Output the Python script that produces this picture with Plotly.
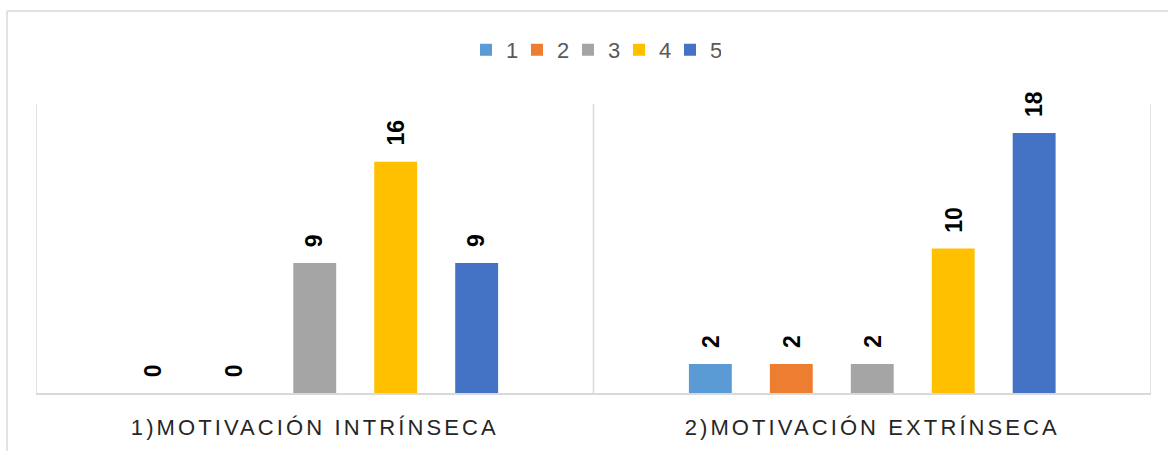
import plotly.graph_objects as go

categories = ["1)MOTIVACIÓN INTRÍNSECA", "2)MOTIVACIÓN EXTRÍNSECA"]
series_names = ["1", "2", "3", "4", "5"]
s1 = [0, 2]
s2 = [0, 2]
s3 = [9, 2]
s4 = [16, 10]
s5 = [9, 18]
series_values = [s1, s2, s3, s4, s5]
colors = ["#5B9BD5", "#ED7D31", "#A5A5A5", "#FFC000", "#4472C4"]

BARGAP = 0.274
BARGROUPGAP = 0.47
GRID = "#D9D9D9"

fig = go.Figure()
for name, vals, col in zip(series_names, series_values, colors):
    fig.add_trace(go.Bar(x=categories, y=vals, name=name, marker=dict(color=col, line=dict(width=0))))

# data labels (rotated, bold) placed above each bar
n = len(series_names)
slot = (1 - BARGAP) / n
annotations = []
for j, vals in enumerate(series_values):
    for i, v in enumerate(vals):
        annotations.append(dict(
            x=i + (j - (n - 1) / 2) * slot, y=v, xref="x", yref="y",
            text=str(v), showarrow=False, textangle=-90,
            xanchor="center", yanchor="bottom", yshift=14,
            font=dict(family="Liberation Sans", size=23, color="#000000", weight="bold"),
        ))

shapes = []
for xb in [-0.5, 0.5, 1.5]:
    shapes.append(dict(type="line", xref="x", yref="y", x0=xb, x1=xb, y0=0, y1=20,
                       line=dict(color=GRID, width=1.5), layer="below"))
# outer chart border (partially visible)
shapes.append(dict(type="line", xref="paper", yref="paper", x0=-0.026, x1=-0.026, y0=-0.3, y1=1.3218,
                   line=dict(color=GRID, width=1.5)))
shapes.append(dict(type="line", xref="paper", yref="paper", x0=-0.026, x1=1.05, y0=1.3218, y1=1.3218,
                   line=dict(color=GRID, width=1.5)))

fig.update_layout(
    width=1168, height=451,
    margin=dict(l=36, r=17, t=104, b=58),
    paper_bgcolor="white", plot_bgcolor="white",
    barmode="group", bargap=BARGAP, bargroupgap=BARGROUPGAP,
    showlegend=True,
    legend=dict(orientation="h", x=0.5, xanchor="center", y=1.187, yanchor="middle",
                font=dict(family="Liberation Sans", size=22, color="#595959"),
                itemwidth=30, entrywidth=6, entrywidthmode="pixels", traceorder="normal"),
    xaxis=dict(range=[-0.5, 1.5], showline=True, linecolor=GRID, linewidth=1.5, ticks="",
               showgrid=False, zeroline=False, ticklabelstandoff=14,
               tickfont=dict(family="Liberation Sans", size=22, color="#262626")),
    yaxis=dict(range=[0, 20], visible=False, showgrid=False, zeroline=False),
    annotations=annotations,
    shapes=shapes,
    font=dict(family="Liberation Sans"),
)

post = """
document.querySelectorAll('.xtick text').forEach(function(t){t.style.letterSpacing='3.1px';});
"""
fig.write_html("out.html", post_script=post)
